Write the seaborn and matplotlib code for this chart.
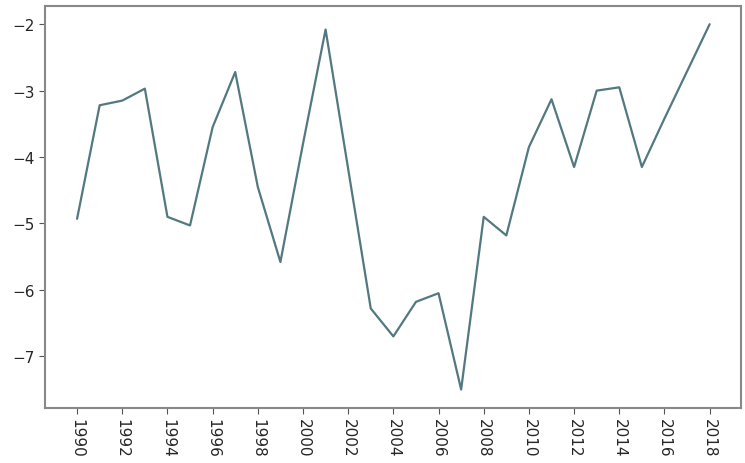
import matplotlib
matplotlib.use("Agg")
import matplotlib.pyplot as plt
import seaborn as sns
import pandas as pd

years = list(range(1990, 2019))
values = [-4.93, -3.22, -3.15, -2.97, -4.90, -5.03, -3.55, -2.72, -4.45, -5.58,
          -3.80, -2.08, -4.18, -6.28, -6.70, -6.18, -6.05, -7.50, -4.90, -5.18,
          -3.85, -3.13, -4.15, -3.00, -2.95, -4.15, -3.42, -2.71, -2.00]

df = pd.DataFrame({"year": years, "value": values})

sns.set_style("white")
fig = plt.figure(figsize=(7.45, 4.64), dpi=100)
ax = fig.add_axes([0.061, 0.119, 0.934, 0.866])

sns.lineplot(data=df, x="year", y="value", ax=ax, color="#52797f", linewidth=1.6)

ax.set_xticks(list(range(1990, 2019, 2)))
ax.tick_params(axis="x", labelrotation=270, labelsize=11, length=4, color="#555555")
ax.tick_params(axis="y", labelsize=11, length=4, color="#555555")
ax.tick_params(bottom=True, left=True)
ax.set_xlabel("")
ax.set_ylabel("")
for s in ax.spines.values():
    s.set_color("#888888")
    s.set_linewidth(1.5)

fig.savefig("out.png", dpi=100)
